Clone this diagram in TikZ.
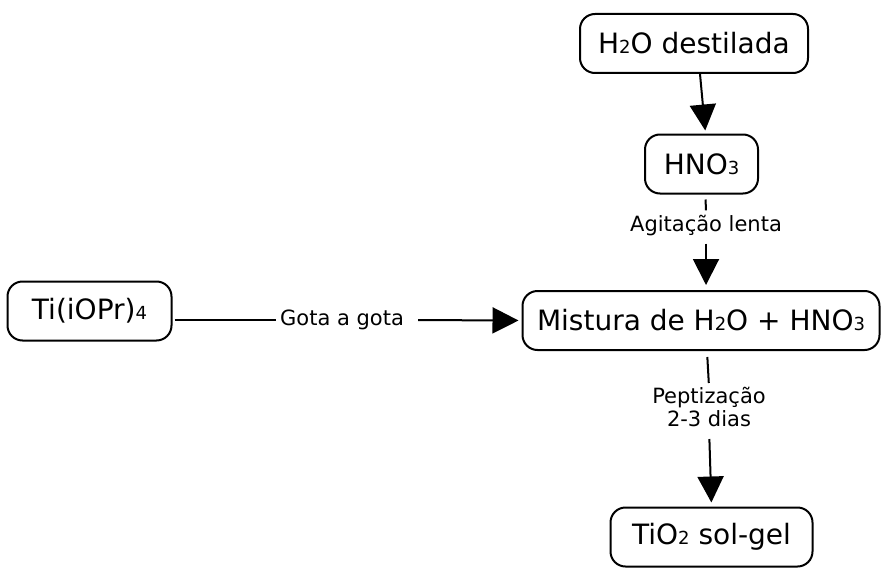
\documentclass[tikz,border=0pt]{standalone}
\usepackage{fontspec}
\setmainfont{DejaVu Sans}
\usetikzlibrary{arrows.meta}
\newcommand{\chsub}[1]{{\fontsize{18}{18}\selectfont #1}}
\begin{document}
\begin{tikzpicture}[x=1pt,y=-1pt,
 box/.style={draw, line width=2pt, rounded corners=15pt, font=\fontsize{28}{32}\selectfont, inner sep=0pt, minimum height=59pt},
 lbl/.style={font=\fontsize{21}{23}\selectfont, inner sep=0pt, align=center},
 conn/.style={line width=2pt},
 arr/.style={conn, -{Triangle[width=26pt,length=26pt]}}]
\useasboundingbox (0,0) rectangle (882,567);
\node[box, minimum width=228pt] (h2o) at (694,43.5) {H\chsub{2}O destilada};
\node[box, minimum width=113pt] (hno3) at (701.5,164) {HNO\chsub{3}};
\node[box, minimum width=357pt] (mist) at (701,320.5) {Mistura de H\chsub{2}O + HNO\chsub{3}};
\node[box, minimum width=164pt] (ti) at (89.5,311) {Ti(iOPr)\chsub{4}};
\node[box, minimum width=202pt] (tio2) at (711.5,537) {TiO\chsub{2} sol-gel};
\node[lbl] (agit) at (706,226) {Agitação lenta};
\node[lbl] (gota) at (342,320) {Gota a gota};
\node[lbl] (pept) at (709,407) {Peptização\\2-3 dias};
\draw[arr, shorten >=3pt] ([xshift=6pt]h2o.south) -- ([xshift=4pt]hno3.north);
\draw[conn, shorten <=5pt, shorten >=5pt] ([xshift=4pt]hno3.south) -- (agit.north);
\draw[arr, shorten <=7pt, shorten >=5pt] (agit.south) -- ([xshift=5pt]mist.north);
\draw[conn, shorten <=2pt, shorten >=4pt] (ti.east |- gota.west) -- (gota.west);
\draw[arr, shorten <=14pt, shorten >=3pt] (gota.east) -- (mist.west);
\draw[conn, shorten <=6pt, shorten >=4pt] ([xshift=6pt]mist.south) -- (pept.north);
\draw[arr, shorten <=12pt, shorten >=4pt] (pept.south) -- (tio2.north);
\end{tikzpicture}
\end{document}
